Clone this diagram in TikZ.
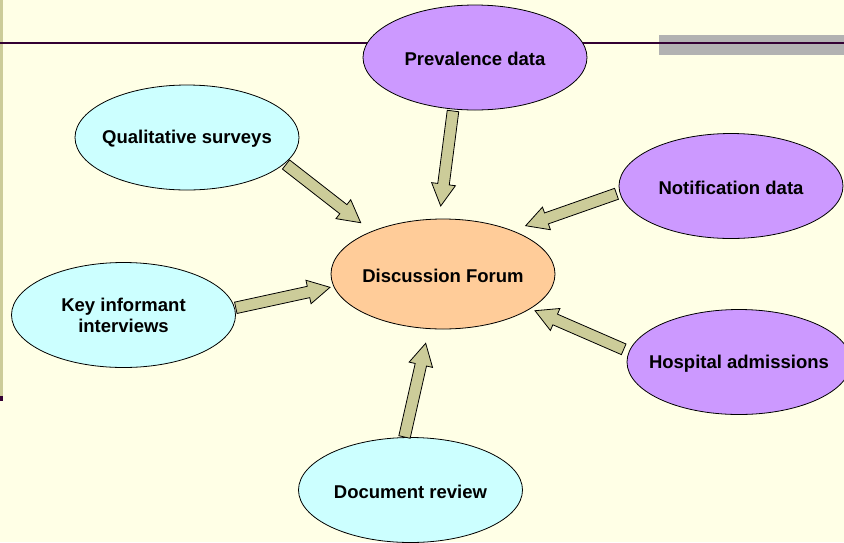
\documentclass[tikz,border=0pt]{standalone}
\usepackage{fontspec}
\setmainfont{Liberation Sans}
\usetikzlibrary{shapes.geometric,calc}
\definecolor{bg}{HTML}{FFFFE6}
\definecolor{leftbar}{HTML}{CCCC99}
\definecolor{linepurple}{HTML}{330033}
\definecolor{graybar}{HTML}{B2B2B2}
\definecolor{cyanfill}{HTML}{CCFFFF}
\definecolor{purplefill}{HTML}{CC99FF}
\definecolor{orangefill}{HTML}{FFCC99}
\definecolor{arrowfill}{HTML}{CCCC99}
\tikzset{
  ell/.style={ellipse,draw=black,line width=0.8pt,minimum width=224pt,minimum height=105pt,inner sep=0pt},
  cyanell/.style={ell,fill=cyanfill},
  purpleell/.style={ell,fill=purplefill},
  orangeell/.style={ell,fill=orangefill,minimum height=110pt},
  lbl/.style={font=\bfseries\fontsize{18.5}{21}\selectfont,align=center,text=black,inner sep=0pt,yshift=-1.5pt},
  arrowbody/.style={draw=black,line width=0.8pt,fill=arrowfill,line join=miter},
}
\newcommand\blockarrow[2]{%
  \coordinate (neck) at ($(#2)!22pt!(#1)$);
  \draw[arrowbody] ($(#1)!5.8pt!90:(#2)$) -- ($(neck)!5.8pt!90:(#2)$) -- ($(neck)!12pt!90:(#2)$) -- (#2)
    -- ($(neck)!12pt!-90:(#2)$) -- ($(neck)!5.8pt!-90:(#2)$) -- ($(#1)!5.8pt!-90:(#2)$) -- cycle;}
\begin{document}
\begin{tikzpicture}[x=1pt,y=-1pt]
\fill[bg] (0,0) rectangle (844,542);
\useasboundingbox (0,0) rectangle (844,542);
\fill[leftbar] (0,0) rectangle (3,396);
\fill[linepurple] (0,396) rectangle (3,401);
\fill[graybar] (659,35) rectangle (844,55);
\draw[linepurple,line width=2pt] (0,42.7) -- (844,42.7);

\node[purpleell] (prev) at (475,57.5) {};
\node[lbl] at (prev) {Prevalence data};
\node[cyanell] (qual) at (187,137.5) {};
\node[lbl] at (qual) {Qualitative surveys};
\node[purpleell] (notif) at (731,186) {};
\node[lbl] at (notif) {Notification data};
\node[orangeell] (forum) at (443,274) {};
\node[lbl] at (forum) {Discussion Forum};
\node[cyanell] (key) at (123.5,315) {};
\node[lbl,yshift=1pt] at (key) {Key informant\\interviews};
\node[purpleell] (hosp) at (739,362) {};
\node[lbl] at (hosp) {Hospital admissions};
\node[cyanell] (doc) at (410.5,490) {};
\node[lbl] at (doc) {Document review};

\coordinate (qualT) at (286,164.5);   \coordinate (qualH) at (360.7,222.7);
\coordinate (prevT) at (453,111);     \coordinate (prevH) at (440.7,206);
\coordinate (notifT) at (616.5,193.8); \coordinate (notifH) at (525.7,225.7);
\coordinate (docT) at (404.5,437);    \coordinate (docH) at (425.7,343.3);
\coordinate (hospT) at (623.7,349.3); \coordinate (hospH) at (535,310.7);
\coordinate (keyT) at (235.8,307.8);  \coordinate (keyH) at (330,287.3);

\blockarrow{qualT}{qualH}
\blockarrow{prevT}{prevH}
\blockarrow{notifT}{notifH}
\blockarrow{docT}{docH}
\blockarrow{hospT}{hospH}
\blockarrow{keyT}{keyH}
\end{tikzpicture}
\end{document}
